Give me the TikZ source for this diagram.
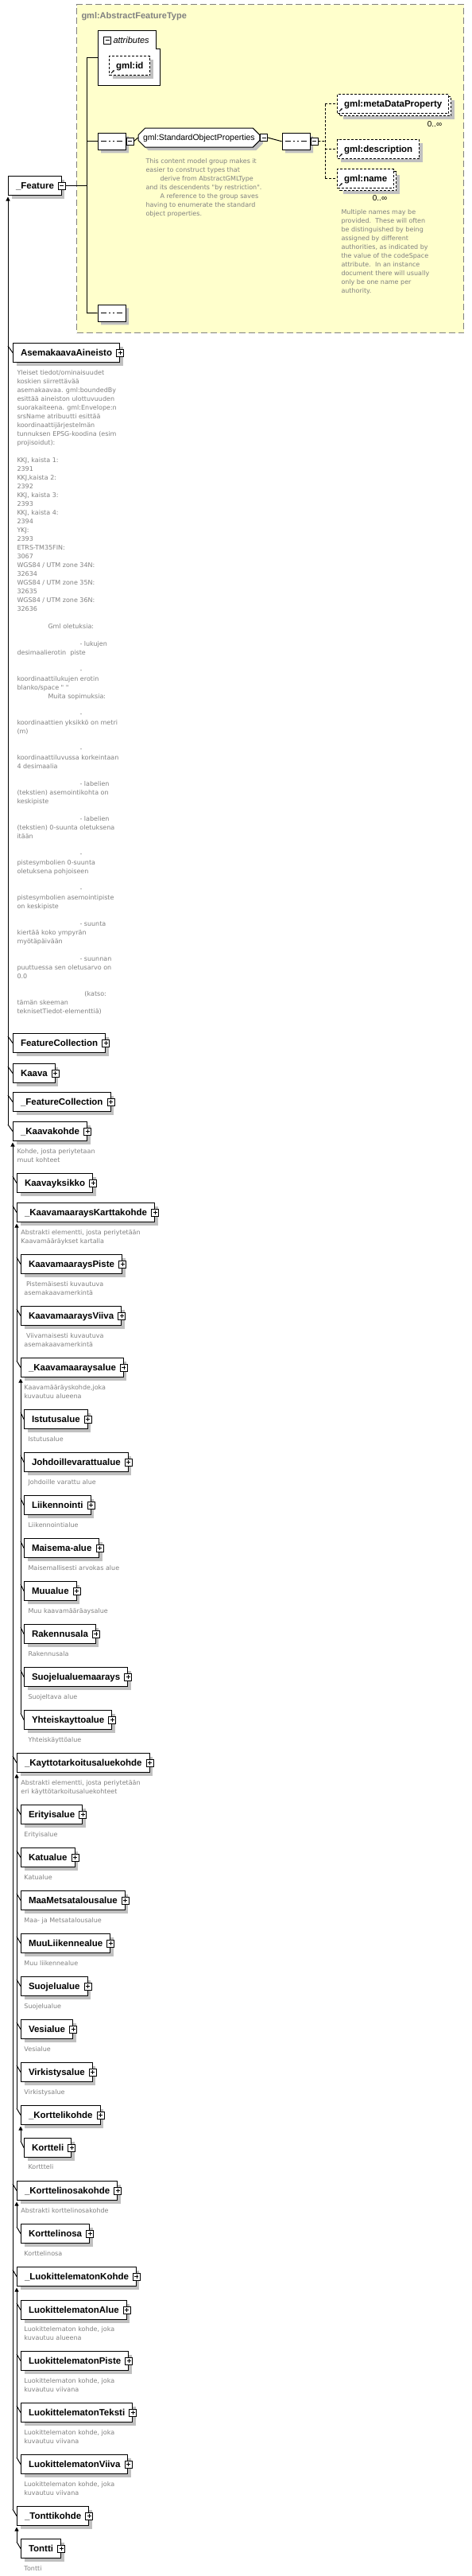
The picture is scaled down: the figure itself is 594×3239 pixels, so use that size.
\documentclass[tikz,border=0pt]{standalone}
\usepackage{fontspec}
\setmainfont{Liberation Sans}
\newfontfamily\descfont{DejaVu Sans}
\usetikzlibrary{calc,shapes.misc,shadows,arrows.meta}

\definecolor{aftyellow}{RGB}{255,255,204}
\definecolor{aftgray}{RGB}{128,128,128}
\definecolor{shgray}{RGB}{192,192,192}
\definecolor{desctext}{RGB}{128,128,128}

\newcommand\dstrut{\rule{0pt}{8pt}}
%% element box with its plus sign
\newcommand\elem[4]{\node[elem] (#1) at (#2,#3) {#4};
    \node[plusbox] (#1p) at (#1.east) {};}
%% grey annotation under an element
\newcommand\descr[4]{\node[desc] (#1) at (#2,#3) {\dstrut#4};}
%% substitution group: head line with arrow, and one tick per member
\newcommand\sghead[2]{\draw[inh] ($(#1.south west |- #2.north)+(0,4)$) -- (#1.south west);}
\newcommand\sgmember[2]{\draw ($(#1.south west |- #2.north)+(0,4)$) -- (#2.west);}
%% small reference arrow in the corner of a gml element
\newcommand\refmark[1]{\draw[line width=0.8pt,-{Latex[length=2.5pt,width=2.5pt]}] ($(#1.south west)+(3,-3)$) -- ++(4,-4);}

\begin{document}
\begin{tikzpicture}[x=1pt,y=-1pt,line width=1pt]
\tikzset{
    ebox/.style = {draw,fill=white,anchor=north west,minimum height=24pt,
                    text height=8.2pt,text depth=0pt,font=\bfseries\fontsize{11.5}{13}\selectfont},
    shadowed/.style = {drop shadow={shadow xshift=4pt,shadow yshift=-4pt,draw=none,fill=shgray,opacity=1}},
    elem/.style = {ebox,shadowed,inner xsep=9.5pt},
    opt/.style = {dash pattern=on 3pt off 2pt},
    gelem/.style = {ebox,opt,inner xsep=8.5pt},
    plusbox/.style = {draw,solid,fill=white,minimum size=9pt,inner sep=0pt,line width=0.8pt,
                    path picture={\draw[line width=0.8pt]
                        ([xshift=2pt]path picture bounding box.west) -- ([xshift=-2pt]path picture bounding box.east)
                        ([yshift=2pt]path picture bounding box.south) -- ([yshift=-2pt]path picture bounding box.north);}},
    minusbox/.style = {draw,solid,fill=white,minimum size=9pt,inner sep=0pt,line width=0.8pt,
                    path picture={\draw[line width=0.8pt]
                        ([xshift=2pt]path picture bounding box.west) -- ([xshift=-2pt]path picture bounding box.east);}},
    desc/.style = {anchor=north west,inner sep=0pt,align=left,text=desctext,
                    font=\descfont\fontsize{8}{11}\selectfont},
    seq/.style = {chamfered rectangle,chamfered rectangle xsep=5pt,draw,fill=white,shadowed,
                    anchor=north west,minimum width=35pt,minimum height=21pt,inner sep=0pt,
                    path picture={\draw[line width=1pt]
                        ([xshift=4pt]path picture bounding box.west) -- ([xshift=-4pt]path picture bounding box.east);
                        \fill ([xshift=-5pt]path picture bounding box.center) +(-1.6,-1.6) rectangle +(1.6,1.6);
                        \fill (path picture bounding box.center) +(-1.6,-1.6) rectangle +(1.6,1.6);
                        \fill ([xshift=5pt]path picture bounding box.center) +(-1.6,-1.6) rectangle +(1.6,1.6);}},
    grp/.style = {chamfered rectangle,chamfered rectangle xsep=5pt,draw,fill=white,shadowed,
                    anchor=north west,minimum height=24pt,inner xsep=1pt,text height=7.5pt,text depth=0pt,
                    font=\fontsize{10.5}{12}\selectfont},
    inh/.style = {-{Triangle[width=5pt,length=5pt]},shorten >=1.5pt},
    mult/.style = {inner sep=0pt,font=\fontsize{10}{12}\selectfont},
    aftbox/.style = {draw=aftgray,fill=aftyellow,dash pattern=on 8pt off 4pt,anchor=north west,
                    minimum width=487pt,minimum height=413pt,inner sep=0pt}
}
\useasboundingbox (0,0) rectangle (594,3239);

%% the complex type of _Feature
\node[aftbox] (aft) at (96,5) {};
\node[anchor=west,text=aftgray,inner sep=0pt,text height=8pt,text depth=0pt,
      font=\bfseries\fontsize{11}{13}\selectfont] (afttitle) at (102,19) {gml:AbstractFeatureType};

\node[ebox,draw=none,fill=none,minimum width=78pt,minimum height=68pt,inner sep=0pt] (attr) at (123,38) {};
\draw[fill=white] (attr.north west) -- ++(73,0) -- ++(0,23) -- ++(5,0) |- (attr.south west) -- cycle;
\node[minusbox] (attrm) at (135,50.5) {};
\node[anchor=west,inner sep=0pt,text height=8pt,text depth=0pt,
      font=\itshape\fontsize{11}{13}\selectfont] (attrlbl) at (142,50) {attributes};
\node[gelem,shadowed] (gmlid) at (137,70) {gml:id};
\refmark{gmlid}

\node[seq] (seq1) at (123,167) {};
\node[minusbox,anchor=west] (seq1m) at (seq1.east) {};
\node[grp] (sop) at (178,165) {gml:StandardObjectProperties};
\node[minusbox,anchor=west] (sopm) at (sop.east) {};
\descr{sopd}{183}{197}{This content model group makes it\\
easier to construct types that\\
\hspace*{18pt}derive from AbstractGMLType\\
and its descendents "by restriction".\\
\hspace*{18pt}A reference to the group saves\\
having to enumerate the standard\\
object properties.}
\node[seq] (seq2) at (355,167) {};
\node[minusbox,anchor=west] (seq2m) at (seq2.east) {};

\node[gelem,shadowed] (metaback) at (427,121) {\phantom{gml:metaDataProperty}};
\node[gelem] (meta) at (424,118) {gml:metaDataProperty};
\refmark{meta}
\node[mult] (metamult) at (547,156) {0..∞};
\node[gelem,shadowed] (gdesc) at (424,175) {gml:description};
\refmark{gdesc}
\node[gelem,shadowed] (nameback) at (427,215) {\phantom{gml:name}};
\node[gelem] (name) at (424,212) {gml:name};
\refmark{name}
\node[mult] (namemult) at (478,249) {0..∞};
\descr{named}{429}{261}{Multiple names may be\\
provided.\ \ These will often\\
be distinguished by being\\
assigned by different\\
authorities, as indicated by\\
the value of the codeSpace\\
attribute.\ \ In an instance\\
document there will usually\\
only be one name per\\
authority.}

\node[seq] (seq3) at (123,383) {};

\node[elem] (feat) at (10,221) {\_Feature};
\node[minusbox] (featm) at (feat.east) {};

%% content model lines
\coordinate (bartop) at (109,72);
\coordinate (barbot) at (109,393.5);
\coordinate (fork) at (409,177.5);
\draw (featm.east) -- (featm.east -| bartop);
\draw (bartop) -- (barbot);
\draw (bartop) -- (attr.west |- bartop);
\draw (seq1.west -| bartop) -- (seq1.west);
\draw (barbot) -- (seq3.west);
\draw (seq1m.east) -- (sop.west);
\draw (sopm.east) -- (seq2.west);
\draw[opt] (seq2m.east) -- (fork);
\draw[opt] (meta.west -| fork) -- (name.west -| fork);
\draw[opt] (meta.west -| fork) -- (meta.west);
\draw[opt] (gdesc.west -| fork) -- (gdesc.west);
\draw[opt] (name.west -| fork) -- (name.west);

%% members of _Feature
\elem{asem}{16}{431}{AsemakaavaAineisto}
\descr{asemd}{21}{463}{Yleiset tiedot/ominaisuudet\\
koskien siirrettävää\\
asemakaavaa. gml:boundedBy\\
esittää aineiston ulottuvuuden\\
suorakaiteena. gml:Envelope:n\\
srsName atribuutti esittää\\
koordinaattijärjestelmän\\
tunnuksen EPSG-koodina (esim\\
projisoidut):\\
\\
KKJ, kaista 1:\\
2391\\
KKJ,kaista 2:\\
2392\\
KKJ, kaista 3:\\
2393\\
KKJ, kaista 4:\\
2394\\
YKJ:\\
2393\\
ETRS-TM35FIN:\\
3067\\
WGS84 / UTM zone 34N:\\
32634\\
WGS84 / UTM zone 35N:\\
32635\\
WGS84 / UTM zone 36N:\\
32636\\
\\
\hspace*{39pt}Gml oletuksia:\\
\\
\hspace*{79pt}- lukujen\\
desimaalierotin\ \ piste\\
\\
\hspace*{79pt}-\\
koordinaattilukujen erotin\\
blanko/space " "\\
\hspace*{39pt}Muita sopimuksia:\\
\\
\hspace*{79pt}-\\
koordinaattien yksikkö on metri\\
(m)\\
\\
\hspace*{79pt}-\\
koordinaattiluvussa korkeintaan\\
4 desimaalia\\
\\
\hspace*{79pt}- labelien\\
(tekstien) asemointikohta on\\
keskipiste\\
\\
\hspace*{79pt}- labelien\\
(tekstien) 0-suunta oletuksena\\
itään\\
\\
\hspace*{79pt}-\\
pistesymbolien 0-suunta\\
oletuksena pohjoiseen\\
\\
\hspace*{79pt}-\\
pistesymbolien asemointipiste\\
on keskipiste\\
\\
\hspace*{79pt}- suunta\\
kiertää koko ympyrän\\
myötäpäivään\\
\\
\hspace*{79pt}- suunnan\\
puuttuessa sen oletusarvo on\\
0.0\\
\\
\hspace*{85pt}(katso:\\
tämän skeeman\\
teknisetTiedot-elementtiä)}
\elem{fcoll}{16}{1299}{FeatureCollection}
\elem{kaava}{16}{1337}{Kaava}
\elem{ufcoll}{16}{1373}{\_FeatureCollection}
\elem{kkohde}{16}{1410}{\_Kaavakohde}
\descr{kkohded}{21}{1442}{Kohde, josta periytetaan\\muut kohteet}

%% members of _Kaavakohde
\elem{kyks}{21}{1475}{Kaavayksikko}
\elem{kmkk}{21}{1512}{\_KaavamaaraysKarttakohde}
\descr{kmkkd}{26}{1544}{Abstrakti elementti, josta periytetään\\Kaavamääräykset kartalla}
\elem{kmpiste}{26}{1577}{KaavamaaraysPiste}
\descr{kmpisted}{30}{1609}{\ Pistemäisesti kuvautuva\\asemakaavamerkintä}
\elem{kmviiva}{26}{1642}{KaavamaaraysViiva}
\descr{kmviivad}{30}{1674}{\ Viivamaisesti kuvautuva\\asemakaavamerkintä}
\elem{kmalue}{26}{1707}{\_Kaavamaaraysalue}
\descr{kmalued}{30}{1739}{Kaavamääräyskohde,joka\\kuvautuu alueena}
\elem{istut}{30}{1772}{Istutusalue}
\descr{istutd}{35}{1804}{Istutusalue}
\elem{johd}{30}{1826}{Johdoillevarattualue}
\descr{johdd}{35}{1858}{Johdoille varattu alue}
\elem{liik}{30}{1880}{Liikennointi}
\descr{liikd}{35}{1912}{Liikennointialue}
\elem{maisema}{30}{1934}{Maisema-alue}
\descr{maisemad}{35}{1966}{Maisemallisesti arvokas alue}
\elem{muu}{30}{1988}{Muualue}
\descr{muud}{35}{2020}{Muu kaavamääräaysalue}
\elem{rak}{30}{2042}{Rakennusala}
\descr{rakd}{35}{2074}{Rakennusala}
\elem{suojm}{30}{2096}{Suojelualuemaarays}
\descr{suojmd}{35}{2128}{Suojeltava alue}
\elem{yht}{30}{2150}{Yhteiskayttoalue}
\descr{yhtd}{35}{2182}{Yhteiskäyttöalue}
\elem{kta}{21}{2204}{\_Kayttotarkoitusaluekohde}
\descr{ktad}{26}{2236}{Abstrakti elementti, josta periytetään\\eri käyttötarkoitusaluekohteet}
\elem{erit}{26}{2269}{Erityisalue}
\descr{eritd}{30}{2301}{Erityisalue}
\elem{katu}{26}{2323}{Katualue}
\descr{katud}{30}{2355}{Katualue}
\elem{maamets}{26}{2377}{MaaMetsatalousalue}
\descr{maametsd}{30}{2409}{Maa- ja Metsatalousalue}
\elem{muuliik}{26}{2431}{MuuLiikennealue}
\descr{muuliikd}{30}{2463}{Muu liikennealue}
\elem{suoj}{26}{2485}{Suojelualue}
\descr{suojd}{30}{2517}{Suojelualue}
\elem{vesi}{26}{2539}{Vesialue}
\descr{vesid}{30}{2571}{Vesialue}
\elem{virk}{26}{2593}{Virkistysalue}
\descr{virkd}{30}{2625}{Virkistysalue}
\elem{kortk}{26}{2647}{\_Korttelikohde}
\elem{kortteli}{30}{2688}{Kortteli}
\descr{korttelid}{35}{2719}{Korttteli}
\elem{kosak}{21}{2742}{\_Korttelinosakohde}
\descr{kosakd}{26}{2774}{Abstrakti korttelinosakohde}
\elem{kosa}{26}{2796}{Korttelinosa}
\descr{kosad}{30}{2828}{Korttelinosa}
\elem{luok}{21}{2850}{\_LuokittelematonKohde}
\elem{lalue}{26}{2892}{LuokittelematonAlue}
\descr{lalued}{30}{2923}{Luokittelematon kohde, joka\\kuvautuu alueena}
\elem{lpiste}{26}{2956}{LuokittelematonPiste}
\descr{lpisted}{30}{2988}{Luokittelematon kohde, joka\\kuvautuu viivana}
\elem{lteksti}{26}{3021}{LuokittelematonTeksti}
\descr{ltekstid}{30}{3053}{Luokittelematon kohde, joka\\kuvautuu viivana}
\elem{lviiva}{26}{3086}{LuokittelematonViiva}
\descr{lviivad}{30}{3118}{Luokittelematon kohde, joka\\kuvautuu viivana}
\elem{tontk}{21}{3151}{\_Tonttikohde}
\elem{tontti}{26}{3192}{Tontti}
\descr{tonttid}{30}{3224}{Tontti}

%% substitution group lines
\sghead{feat}{kkohde}
\sgmember{feat}{asem}
\sgmember{feat}{fcoll}
\sgmember{feat}{kaava}
\sgmember{feat}{ufcoll}
\sgmember{feat}{kkohde}

\sghead{kkohde}{tontk}
\sgmember{kkohde}{kyks}
\sgmember{kkohde}{kmkk}
\sgmember{kkohde}{kta}
\sgmember{kkohde}{kosak}
\sgmember{kkohde}{luok}
\sgmember{kkohde}{tontk}

\sghead{kmkk}{kmalue}
\sgmember{kmkk}{kmpiste}
\sgmember{kmkk}{kmviiva}
\sgmember{kmkk}{kmalue}

\sghead{kmalue}{yht}
\sgmember{kmalue}{istut}
\sgmember{kmalue}{johd}
\sgmember{kmalue}{liik}
\sgmember{kmalue}{maisema}
\sgmember{kmalue}{muu}
\sgmember{kmalue}{rak}
\sgmember{kmalue}{suojm}
\sgmember{kmalue}{yht}

\sghead{kta}{kortk}
\sgmember{kta}{erit}
\sgmember{kta}{katu}
\sgmember{kta}{maamets}
\sgmember{kta}{muuliik}
\sgmember{kta}{suoj}
\sgmember{kta}{vesi}
\sgmember{kta}{virk}
\sgmember{kta}{kortk}

\sghead{kortk}{kortteli}
\sgmember{kortk}{kortteli}

\sghead{kosak}{kosa}
\sgmember{kosak}{kosa}

\sghead{luok}{lviiva}
\sgmember{luok}{lalue}
\sgmember{luok}{lpiste}
\sgmember{luok}{lteksti}
\sgmember{luok}{lviiva}

\sghead{tontk}{tontti}
\sgmember{tontk}{tontti}

\end{tikzpicture}
\end{document}
